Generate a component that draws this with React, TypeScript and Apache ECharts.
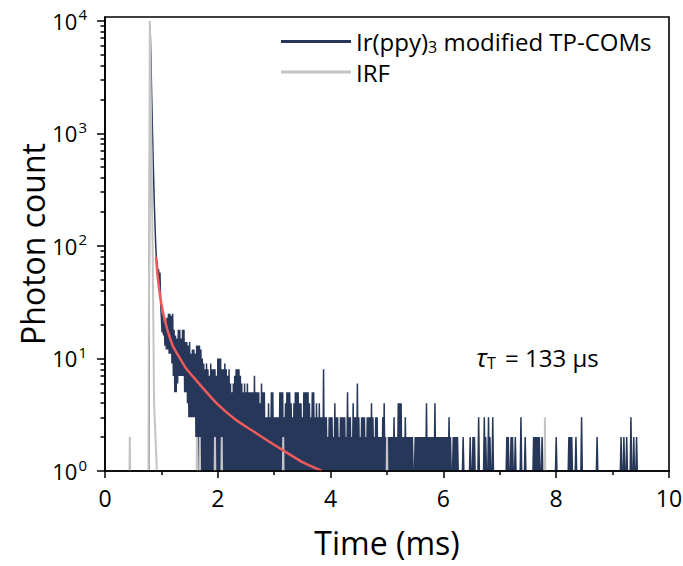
import React, { useEffect, useRef } from "react";
import * as echarts from "echarts";

const FONT = "'Open Sans', 'Noto Sans', 'DejaVu Sans', sans-serif";

const SAMPLE_NAME = "Ir(ppy)3 modified TP-COMs";
const IRF_NAME = "IRF";

// Sample decay histogram: upper and lower envelope per bin
const binStart = 0.75; // ms
const binWidth = 0.025; // ms
const sampleUpper = [
  1, 1, 9000, 2500, 700, 230, 100, 72, 62, 58, 30, 25, 21, 20, 23, 25, 25, 24, 25, 18,
  16, 15, 18, 18, 15, 18, 18, 14, 14, 13, 14, 11, 12, 12, 11, 13, 13, 13, 12, 10,
  9, 8, 9, 8, 7, 9, 8, 8, 8, 7, 10, 10, 10, 8, 8, 9, 8, 7, 8, 6,
  5, 6, 7, 8, 8, 8, 7, 6, 5, 6, 5, 6, 5, 5, 5, 5, 7, 5, 5, 5,
  4, 6, 5, 5, 3, 3, 4, 3, 5, 5, 3, 3, 3, 3, 5, 5, 5, 3, 4, 5,
  5, 5, 4, 3, 4, 5, 5, 5, 4, 4, 3, 5, 5, 5, 5, 4, 3, 5, 5, 3,
  4, 3, 4, 3, 3, 8, 3, 3, 2, 3, 3, 3, 2, 4, 3, 3, 2, 3, 3, 3,
  3, 2, 5, 3, 3, 2, 4, 3, 3, 6, 3, 2, 3, 3, 3, 2, 3, 3, 3, 4,
  3, 2, 3, 3, 2, 2, 2, 3, 4, 2, 2, 2, 2, 2, 2, 3, 2, 2, 4, 4,
  4, 2, 2, 3, 2, 2, 2, 2, 2, 1, 2, 2, 2, 2, 2, 2, 2, 2, 4, 2,
  2, 2, 2, 2, 4, 2, 2, 2, 2, 2, 2, 2, 2, 2, 3, 2, 1, 2, 2, 2,
  2,
];
const sampleLowerHead = [
  1, 1, 5000, 1300, 400, 150, 75, 58, 45, 30, 17, 16, 13, 12, 12, 11, 11, 9, 7, 5,
  5, 6, 7, 7, 7, 7, 5, 5, 4, 3, 3, 3, 3, 3, 2,
];
const baselineCount = 1;

// Isolated counts in the tail
const tailSpikeTimes = [
  6.35, 6.475, 6.525, 6.55, 6.625, 6.725, 6.75, 6.8, 6.825, 6.875, 7.125, 7.15, 7.2, 7.225,
  7.275, 7.375, 7.45, 7.6, 7.625, 7.65, 7.675, 7.7, 7.75, 8.0, 8.225, 8.25, 8.275, 8.35, 8.45,
  8.725, 9.15, 9.2, 9.25, 9.325, 9.375, 9.425,
];
const tailSpikeCounts = [
  2, 2, 2, 2, 3, 3, 2, 3, 2, 3, 2, 2, 2, 2,
  2, 3, 2, 2, 2, 2, 2, 2, 2, 2, 2, 2, 2, 2, 3,
  2, 2, 2, 2, 3, 2, 2,
];

// Instrument response function
const irfPulseTimes = [0.77, 0.795, 0.82, 0.845, 0.87, 0.895, 0.92];
const irfPulseCounts = [1, 10000, 1000, 90, 4, 2, 1];
const irfSpikeTimes = [0.44, 1.63, 1.68, 1.95, 2.07, 3.16, 5.0, 7.8];
const irfSpikeCounts = [2, 2, 2, 2, 2, 2, 2, 3];

// Fitted decay curve
const fitTimes = [0.905, 0.93, 0.976, 1.02, 1.065, 1.12, 1.21, 1.33, 1.45, 1.69, 2.0, 2.3, 2.6, 2.9, 3.2, 3.5, 3.85];
const fitCounts = [80, 56, 36, 27, 21.5, 17, 12.7, 10, 8, 5.8, 3.9, 2.9, 2.3, 1.84, 1.48, 1.2, 1.0];

const yMajorTicks = [1, 10, 100, 1000, 10000];
const yMinorTicks = [
  2, 3, 4, 5, 6, 7, 8, 9,
  20, 30, 40, 50, 60, 70, 80, 90,
  200, 300, 400, 500, 600, 700, 800, 900,
  2000, 3000, 4000, 5000, 6000, 7000, 8000, 9000,
];

const SAMPLE_COLOR = "#26375a";
const IRF_COLOR = "#c4c4c4";
const FIT_COLOR = "#ef5b5b";

function buildSample() {
  const pts: any[] = [];
  sampleUpper.forEach((c, i) => {
    const t = binStart + i * binWidth;
    pts.push([t, c]);
    const low = i < sampleLowerHead.length ? sampleLowerHead[i] : baselineCount;
    pts.push([t + binWidth / 2, low]);
  });
  tailSpikeTimes.forEach((t, i) => {
    pts.push([t - binWidth / 2, baselineCount]);
    pts.push([t, tailSpikeCounts[i]]);
    pts.push([t + binWidth / 2, baselineCount]);
  });
  return pts;
}

function buildIrf() {
  const pts: any[] = [];
  const spikes = irfSpikeTimes.map((t, i) => ({ t, c: irfSpikeCounts[i] }));
  const before = spikes.filter((s) => s.t < irfPulseTimes[0]);
  const after = spikes.filter((s) => s.t >= irfPulseTimes[0]);
  const addSpike = (s: { t: number; c: number }) => {
    pts.push([s.t - 0.006, baselineCount]);
    pts.push([s.t, s.c]);
    pts.push([s.t + 0.006, baselineCount]);
    pts.push([s.t + 0.007, "-"]);
  };
  before.forEach(addSpike);
  irfPulseTimes.forEach((t, i) => pts.push([t, irfPulseCounts[i]]));
  pts.push([irfPulseTimes[irfPulseTimes.length - 1] + 0.001, "-"]);
  after.forEach(addSpike);
  return pts;
}

export default function App() {
  const ref = useRef<HTMLDivElement>(null);

  useEffect(() => {
    if (!ref.current) return;
    const chart = echarts.init(ref.current, undefined, { renderer: "svg" });
    const tickLine = { color: "#000", width: 1.5 };
    const option: any = {
      animation: false,
      backgroundColor: "#ffffff",
      textStyle: { fontFamily: FONT },
      grid: {
        left: 105,
        right: 14,
        top: 17,
        bottom: 95,
        show: true,
        borderColor: "#000",
        borderWidth: 1.6,
        backgroundColor: "transparent",
        containLabel: false,
        outerBoundsMode: "none",
      },
      legend: {
        orient: "vertical",
        left: 276,
        top: 23,
        itemWidth: 70,
        itemHeight: 3,
        itemGap: 4,
        icon: "rect",
        data: [SAMPLE_NAME, IRF_NAME],
        formatter: (name: string) =>
          name === SAMPLE_NAME ? "Ir(ppy){sub|3} modified TP-COMs" : name,
        textStyle: {
          fontFamily: FONT,
          fontSize: 24,
          color: "#000",
          lineHeight: 26,
          rich: {
            sub: { fontFamily: FONT, fontSize: 16, color: "#000", padding: [11, 0, 0, 0], lineHeight: 26 },
          },
        },
      },
      xAxis: {
        type: "value",
        min: 0,
        max: 10,
        interval: 2,
        z: 10,
        name: "Time (ms)",
        nameLocation: "middle",
        nameGap: 55,
        nameMoveOverlap: false,
        nameTextStyle: { fontFamily: FONT, fontSize: 32, color: "#000" },
        axisLine: { show: true, onZero: false, lineStyle: { color: "#000", width: 1.6 } },
        axisTick: { show: true, inside: false, length: 7, lineStyle: tickLine },
        minorTick: { show: true, splitNumber: 2, length: 4, lineStyle: tickLine },
        splitLine: { show: false },
        minorSplitLine: { show: false },
        axisLabel: { fontFamily: FONT, fontSize: 23, color: "#000", margin: 15 },
      },
      yAxis: [
        {
          type: "log",
          logBase: 10,
          min: 1,
          max: 10800,
          z: 10,
          position: "left",
          name: "Photon count",
          nameLocation: "middle",
          nameGap: 57,
          nameMoveOverlap: false,
          nameTextStyle: { fontFamily: FONT, fontSize: 32, color: "#000" },
          axisLine: { show: true, onZero: false, lineStyle: { color: "#000", width: 1.6 } },
          axisTick: { show: true, inside: false, length: 8, lineStyle: tickLine, customValues: yMajorTicks },
          splitLine: { show: false },
          axisLabel: {
            customValues: yMajorTicks,
            fontFamily: FONT,
            fontSize: 22,
            color: "#000",
            margin: 18,
            formatter: (v: number) => {
              const l = Math.log10(v);
              const e = Math.round(l);
              if (Math.abs(l - e) > 1e-6) return "";
              return `10{sup|${e}}`;
            },
            rich: {
              sup: { fontFamily: FONT, fontSize: 15, color: "#000", padding: [0, 0, 13, 1] },
            },
          },
        },
        {
          type: "log",
          logBase: 10,
          min: 1,
          max: 10800,
          z: 10,
          position: "left",
          offset: 0,
          axisLine: { show: false },
          axisTick: { show: true, inside: false, length: 4.5, lineStyle: tickLine, customValues: yMinorTicks },
          axisLabel: { show: false },
          splitLine: { show: false },
        },
      ],
      graphic: [
        {
          type: "text",
          left: 476,
          top: 344,
          z: 20,
          style: {
            text: "{i|τ}{s|T} = 133 μs",
            fontFamily: FONT,
            fontSize: 24,
            fill: "#000",
            rich: {
              i: { fontFamily: FONT, fontSize: 26, fontStyle: "italic", fill: "#000" },
              s: { fontFamily: FONT, fontSize: 16, fill: "#000", padding: [12, 3, 0, 0] },
            },
          },
        },
      ],
      series: [
        {
          name: SAMPLE_NAME,
          type: "line",
          xAxisIndex: 0,
          yAxisIndex: 0,
          data: buildSample(),
          showSymbol: false,
          symbol: "none",
          z: 2,
          lineStyle: { color: SAMPLE_COLOR, width: 1.5 },
          itemStyle: { color: SAMPLE_COLOR },
        },
        {
          name: IRF_NAME,
          type: "line",
          xAxisIndex: 0,
          yAxisIndex: 0,
          data: buildIrf(),
          showSymbol: false,
          symbol: "none",
          connectNulls: false,
          z: 3,
          lineStyle: { color: IRF_COLOR, width: 2 },
          itemStyle: { color: IRF_COLOR },
        },
        {
          name: "Fit",
          type: "line",
          xAxisIndex: 0,
          yAxisIndex: 0,
          data: fitTimes.map((t, i) => [t, fitCounts[i]]),
          showSymbol: false,
          symbol: "none",
          smooth: 0.2,
          z: 4,
          lineStyle: { color: FIT_COLOR, width: 2.5 },
          itemStyle: { color: FIT_COLOR },
        },
      ],
    };
    chart.setOption(option);
    return () => chart.dispose();
  }, []);

  return (
    <div
      ref={ref}
      style={{ position: "fixed", left: 0, top: 0, width: 683, height: 566, background: "#fff" }}
    />
  );
}
